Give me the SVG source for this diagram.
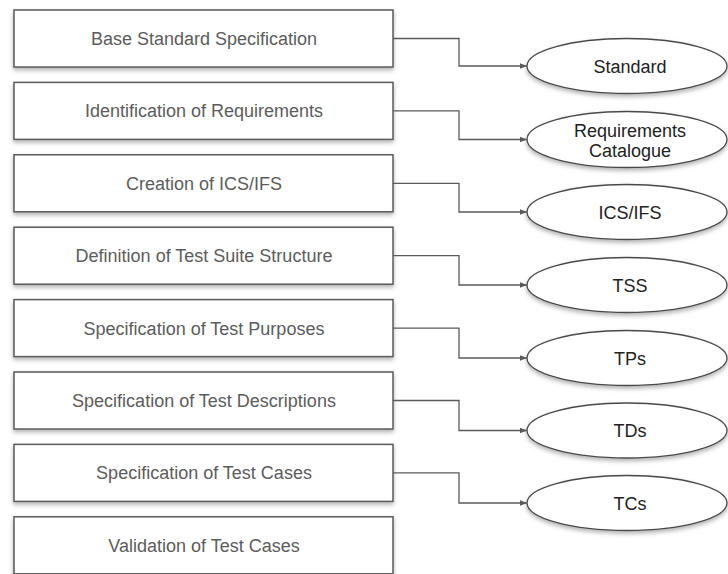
<svg xmlns="http://www.w3.org/2000/svg" width="728" height="574" viewBox="0 0 728 574">
  <style>
    .box { fill: #ffffff; stroke: #5a5a5a; stroke-width: 1.5; filter: url(#shadow); }
    .oval { fill: #ffffff; stroke: #4a4a4a; stroke-width: 1.3; filter: url(#shadow); }
    .step { font-family: "Liberation Sans", Arial, sans-serif; font-size: 18px; fill: #5c5c5c; text-anchor: middle; }
    .out { font-family: "Liberation Sans", Arial, sans-serif; font-size: 18px; fill: #222222; text-anchor: middle; }
    .link { fill: none; stroke: #5a5a5a; stroke-width: 1.3; marker-end: url(#arrow); }
  </style>
  <defs>
    <filter id="shadow" x="-10%" y="-20%" width="120%" height="150%">
      <feDropShadow dx="0" dy="2.5" stdDeviation="2" flood-color="#000" flood-opacity="0.3"/>
    </filter>
    <marker id="arrow" viewBox="0 0 10 10" refX="10" refY="5" markerWidth="7" markerHeight="7" markerUnits="userSpaceOnUse" orient="auto">
      <path d="M0,1 L10,5 L0,9 z" fill="#5a5a5a"/>
    </marker>
  </defs>
  <rect width="728" height="574" fill="#ffffff"/>

  <!-- process steps -->
  <g id="step-base">
    <rect class="box" x="14" y="10" width="379" height="57"/>
    <text class="step" x="204" y="45">Base Standard Specification</text>
  </g>
  <g id="step-requirements">
    <rect class="box" x="14" y="82.4" width="379" height="57"/>
    <text class="step" x="204" y="117.4">Identification of Requirements</text>
  </g>
  <g id="step-ics">
    <rect class="box" x="14" y="154.8" width="379" height="57"/>
    <text class="step" x="204" y="189.8">Creation of ICS/IFS</text>
  </g>
  <g id="step-tss">
    <rect class="box" x="14" y="227.2" width="379" height="57"/>
    <text class="step" x="204" y="262.2">Definition of Test Suite Structure</text>
  </g>
  <g id="step-tp">
    <rect class="box" x="14" y="299.6" width="379" height="57"/>
    <text class="step" x="204" y="334.6">Specification of Test Purposes</text>
  </g>
  <g id="step-td">
    <rect class="box" x="14" y="372" width="379" height="57"/>
    <text class="step" x="204" y="407">Specification of Test Descriptions</text>
  </g>
  <g id="step-tc">
    <rect class="box" x="14" y="444.4" width="379" height="57"/>
    <text class="step" x="204" y="479.4">Specification of Test Cases</text>
  </g>
  <g id="step-validation">
    <rect class="box" x="14" y="516.8" width="379" height="57"/>
    <text class="step" x="204" y="551.8">Validation of Test Cases</text>
  </g>

  <!-- deliverables -->
  <g id="out-standard">
    <ellipse class="oval" cx="627" cy="66" rx="100" ry="27.5"/>
    <text class="out" x="630" y="72.5">Standard</text>
  </g>
  <g id="out-catalogue">
    <ellipse class="oval" cx="627" cy="139.5" rx="100" ry="28"/>
    <text class="out" x="630" y="137">Requirements</text>
    <text class="out" x="630" y="157">Catalogue</text>
  </g>
  <g id="out-ics">
    <ellipse class="oval" cx="627" cy="212" rx="100" ry="27.5"/>
    <text class="out" x="630" y="218.5">ICS/IFS</text>
  </g>
  <g id="out-tss">
    <ellipse class="oval" cx="627" cy="285" rx="100" ry="27.5"/>
    <text class="out" x="630" y="291.5">TSS</text>
  </g>
  <g id="out-tp">
    <ellipse class="oval" cx="627" cy="358" rx="100" ry="27.5"/>
    <text class="out" x="630" y="364.5">TPs</text>
  </g>
  <g id="out-td">
    <ellipse class="oval" cx="627" cy="430.5" rx="100" ry="27.5"/>
    <text class="out" x="630" y="437">TDs</text>
  </g>
  <g id="out-tc">
    <ellipse class="oval" cx="627" cy="503" rx="100" ry="27.5"/>
    <text class="out" x="630" y="509.5">TCs</text>
  </g>

  <!-- connectors -->
  <g id="connectors">
    <path class="link" d="M393,38.5 H459 V66 H527"/>
    <path class="link" d="M393,110.9 H459 V139.5 H527"/>
    <path class="link" d="M393,183.3 H459 V212 H527"/>
    <path class="link" d="M393,255.7 H459 V285 H527"/>
    <path class="link" d="M393,328.1 H459 V358 H527"/>
    <path class="link" d="M393,400.5 H459 V430.5 H527"/>
    <path class="link" d="M393,472.9 H459 V503 H527"/>
  </g>
</svg>
